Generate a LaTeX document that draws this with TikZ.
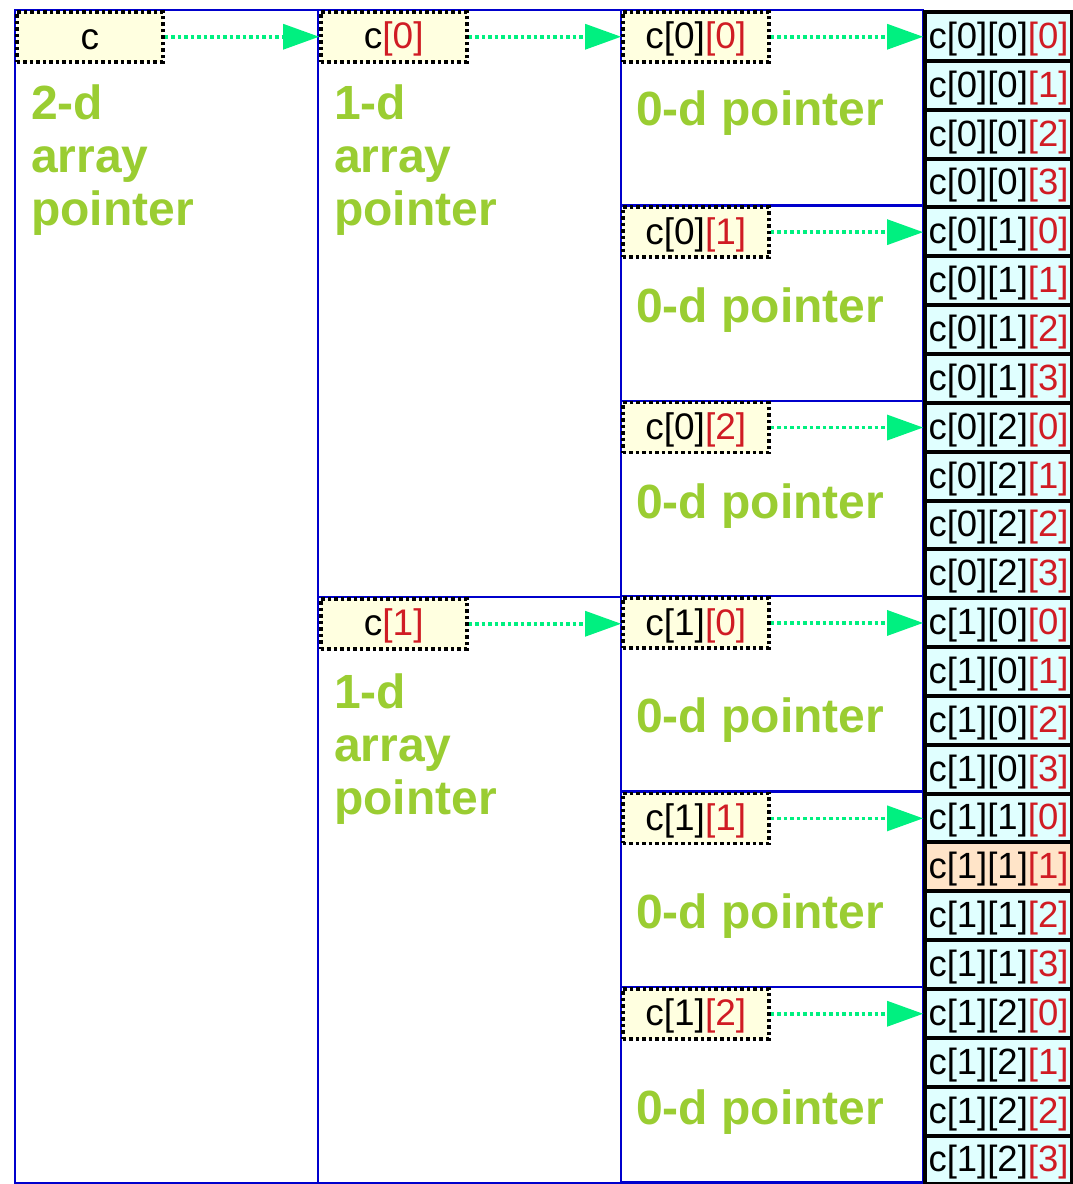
\documentclass[tikz,border=0pt]{standalone}
\usepackage{fontspec}
\setmainfont{Liberation Sans}
\usetikzlibrary{arrows.meta}
\definecolor{lineblue}{RGB}{0,0,204}
\definecolor{lblgreen}{RGB}{154,205,50}
\definecolor{arrowgreen}{RGB}{0,240,128}
\definecolor{idxred}{RGB}{208,28,36}
\definecolor{ptrfill}{RGB}{255,255,224}
\definecolor{cellfill}{RGB}{224,255,255}
\definecolor{hifill}{RGB}{255,228,200}
\newcommand{\idx}[1]{\textcolor{idxred}{#1}}
\newcommand{\lowr}[1]{\raisebox{-2.5pt}[\height][\depth]{#1}}
\begin{document}
\begin{tikzpicture}[x=1pt,y=-1pt,
  ptr/.style={draw=black, line width=3.5pt, dash pattern=on 3.5pt off 3pt, fill=ptrfill,
    minimum width=146pt, minimum height=50pt, inner sep=0pt, anchor=north west,
    font=\fontsize{37}{40}\selectfont},
  cell/.style={draw=black, line width=4pt, fill=cellfill, minimum width=147pt,
    minimum height=48.85pt, inner sep=0pt, anchor=north west,
    font=\fontsize{36.5}{40}\selectfont},
  lbl/.style={text=lblgreen, font=\fontsize{48}{53}\selectfont\bfseries,
    anchor=base west, inner sep=0pt},
  link/.style={draw=arrowgreen, line width=3.5pt, dash pattern=on 3.5pt off 3pt,
    -{Triangle[length=36pt,width=26pt,line width=0pt]}},
  region/.style={draw=lineblue, line width=2.5pt}]
\useasboundingbox (0,0) rectangle (1072,1184);
% regions
\draw[region] (15,10) rectangle (318,1183);
\draw[region] (318,10) rectangle (621,597);
\draw[region] (318,597) rectangle (621,1183);
\foreach \k in {0,...,5}{
  \draw[region] (621,{10+195.4*\k}) rectangle (923,{10+195.4*(\k+1)});
}
% cells
\foreach \i in {0,1}{
  \foreach \j in {0,1,2}{
    \foreach \k in {0,...,3}{
      \pgfmathsetmacro{\n}{12*\i+4*\j+\k}
      \node[cell] (c\i\j\k) at (923,{10+48.85*\n}) {\lowr{c[\i][\j]\idx{[\k]}}};
    }
  }
}
\node[cell, fill=hifill] at (923,{10+48.85*17}) {\lowr{c[1][1]\idx{[1]}}};
% pointer boxes
\node[ptr] (c) at (15,10) {\lowr{c}};
\node[ptr] (c0) at (319,10) {\lowr{c\idx{[0]}}};
\node[ptr] (c1) at (319,597) {\lowr{c\idx{[1]}}};
\foreach \i in {0,1}{
  \foreach \j in {0,1,2}{
    \pgfmathsetmacro{\m}{3*\i+\j}
    \node[ptr] (c\i\j) at (621,{10+195.4*\m}) {\lowr{c[\i]\idx{[\j]}}};
  }
}
% links
\draw[link] (c.east) -- (c.east -| c0.west);
\draw[link] (c0.east) -- (c0.east -| c00.west);
\draw[link] (c1.east) -- (c1.east -| c10.west);
\foreach \i in {0,1}{
  \foreach \j in {0,1,2}{
    \draw[link] (c\i\j.east) -- (c\i\j.east -| c\i\j0.west);
  }
}
% labels
\node[lbl] (l2a) at (31,119) {2-d};
\node[lbl] (l2b) at (31,172) {array};
\node[lbl] (l2c) at (31,225) {pointer};
\node[lbl] (l1a) at (334,119) {1-d};
\node[lbl] (l1b) at (334,172) {array};
\node[lbl] (l1c) at (334,225) {pointer};
\node[lbl] (l1d) at (334,708) {1-d};
\node[lbl] (l1e) at (334,761) {array};
\node[lbl] (l1f) at (334,814) {pointer};
\node[lbl] (z0) at (636,125) {0-d pointer};
\node[lbl] (z1) at (636,322) {0-d pointer};
\node[lbl] (z2) at (636,518) {0-d pointer};
\node[lbl] (z3) at (636,732) {0-d pointer};
\node[lbl] (z4) at (636,928) {0-d pointer};
\node[lbl] (z5) at (636,1124) {0-d pointer};
\end{tikzpicture}
\end{document}
